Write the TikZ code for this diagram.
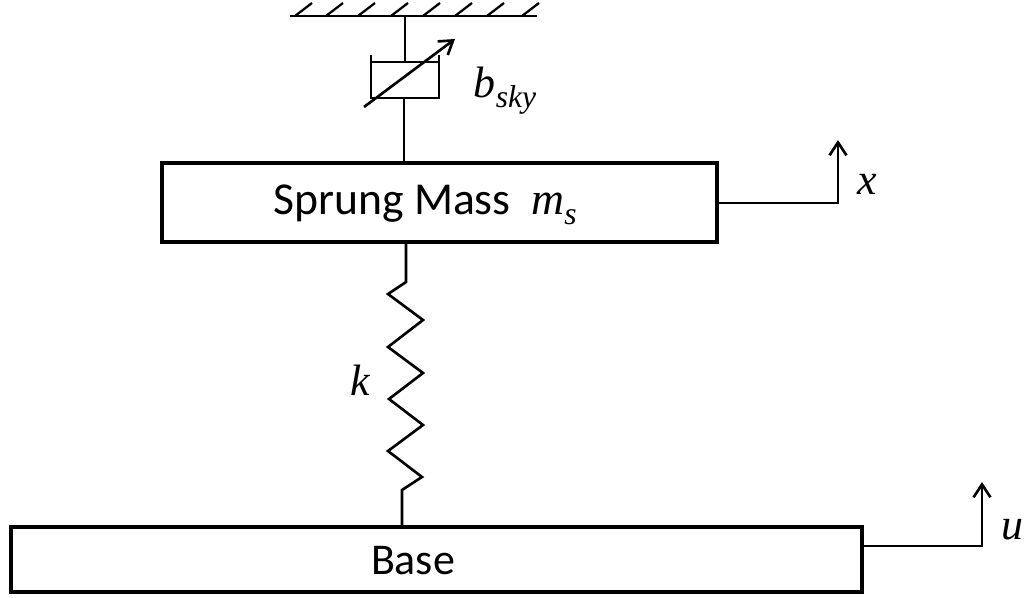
\documentclass[tikz,border=0pt]{standalone}
\usepackage{fontspec,amsmath}
\setmainfont{Carlito}
\newfontfamily\symbfont{Liberation Serif}
\usetikzlibrary{arrows.meta}
\tikzstyle{bigbox}=[rectangle, draw, line width=2.3pt, inner sep=0pt]
\tikzstyle{wire}=[line width=1.5pt, line join=miter]
\tikzstyle{pointer}=[wire, -{Straight Barb[length=2.6mm, width=3.4mm]}]
\tikzstyle{tag}=[inner sep=0pt, font=\fontsize{25pt}{28pt}\selectfont]
\newcommand{\bigbox}{\node[bigbox]}
\newcommand{\tagnode}{\node[tag]}
\newcommand{\sym}[1]{{\symbfont\itshape #1}}
\newcommand{\subsym}[2]{{\symbfont\itshape #1\raisebox{-0.22em}{\fontsize{18pt}{20pt}\selectfont #2}}}

\begin{document}
\begin{tikzpicture}[x=0.02cm, y=-0.02cm
  ,every edge/.style={draw, wire}
]
\useasboundingbox (0,0) rectangle (1029,598);
\bigbox (mass) at (439.5,202.5) [minimum width=11.1cm, minimum height=1.58cm] {};
\bigbox (base) at (436.5,559.5) [minimum width=17.02cm, minimum height=1.3cm] {};
\tagnode (masstext) at (425,205) {\fontsize{26pt}{28pt}\selectfont Sprung Mass\ \ \subsym{m}{s}};
\tagnode (basetext) at (413,561) {Base};
\tagnode (bsky) at (505,91) {\subsym{b}{sky}};
\tagnode (kk) at (360,380) {\sym{k}};
\tagnode (xx) at (867,184) {\sym{x}};
\tagnode (uu) at (1012,530) {\sym{u}};
% ceiling
\coordinate (cl) at (290,16);
\coordinate (cr) at (537,16);
\draw[wire] (cl) -- (cr);
\foreach \hx in {295,326,358,391,423,455,487,522}
  \draw[line width=1.3pt] (\hx,16) -- ++(17,-13);
% damper
\coordinate (roof) at (405,16);
\coordinate (pistontop) at (405,62);
\coordinate (pl) at (371,62);
\coordinate (pr) at (439,62);
\coordinate (cupa) at (371,55);
\coordinate (cupb) at (371,98);
\coordinate (cupc) at (439,98);
\coordinate (cupd) at (439,55);
\coordinate (cupmid) at (404,98);
\coordinate (masstop) at (404,163);
\coordinate (dampstart) at (364,107);
\coordinate (dampend) at (455,39);
\draw[wire] (cupa) -- (cupb) -- (cupc) -- (cupd);
\draw[pointer] (dampstart) -- (dampend);
\path
(roof) edge (pistontop)
(pl) edge (pr)
(cupmid) edge (masstop)
;
% spring
\coordinate (s0) at (406,242);
\coordinate (s1) at (406,282);
\coordinate (s2) at (388,294);
\coordinate (s3) at (423,320);
\coordinate (s4) at (388,347);
\coordinate (s5) at (423,373);
\coordinate (s6) at (389,399);
\coordinate (s7) at (423,425);
\coordinate (s8) at (388,451);
\coordinate (s9) at (422,477);
\coordinate (s10) at (402,490);
\coordinate (s11) at (402,527);
\draw[wire] (s0) -- (s1) -- (s2) -- (s3) -- (s4) -- (s5) -- (s6) -- (s7) -- (s8) -- (s9) -- (s10) -- (s11);
% motion arrows
\coordinate (xcorner) at (838,203);
\coordinate (xtip) at (838,140);
\coordinate (ucorner) at (982,546);
\coordinate (utip) at (982,482);
\draw[pointer] (mass.east |- xcorner) -- (xcorner) -- (xtip);
\draw[pointer] (base.east |- ucorner) -- (ucorner) -- (utip);
\end{tikzpicture}
\end{document}
